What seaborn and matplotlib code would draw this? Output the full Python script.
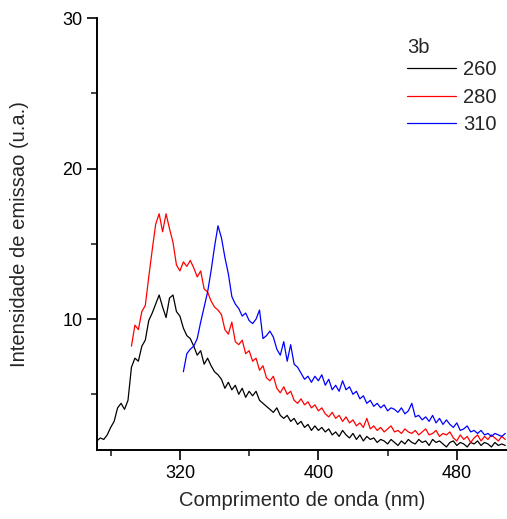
import numpy as np
import pandas as pd
import matplotlib
matplotlib.use("Agg")
import matplotlib.pyplot as plt
import seaborn as sns
from matplotlib.ticker import MultipleLocator

# wavelength grids (nm)
x_260 = list(range(272, 509, 2))
x_280 = list(range(292, 509, 2))
x_310 = list(range(322, 509, 2))

y_260 = [1.9, 2.1, 2.0, 2.3, 2.8, 3.2, 4.1, 4.4, 4.0, 4.6, 6.8, 7.4, 7.2, 8.2, 8.6, 9.9,
         10.4, 11.0, 11.6, 10.8, 10.1, 11.4, 11.6, 10.5, 10.2, 9.4, 8.9, 8.7, 8.2, 7.6,
         7.9, 7.0, 7.4, 6.9, 6.5, 6.3, 6.0, 5.4, 5.8, 5.3, 5.6, 5.0, 5.4, 4.8, 5.2, 4.9,
         5.2, 4.6, 4.4, 4.2, 4.0, 3.8, 4.1, 3.6, 3.4, 3.6, 3.2, 3.4, 3.0, 3.2, 2.8, 3.0,
         2.6, 2.9, 2.6, 2.8, 2.5, 2.7, 2.3, 2.5, 2.2, 2.6, 2.3, 2.1, 2.4, 2.0, 2.3, 1.9,
         2.2, 2.0, 2.1, 1.8, 2.0, 1.9, 1.7, 2.0, 1.8, 1.6, 1.9, 1.7, 2.0, 1.8, 1.7, 2.0,
         1.8, 1.9, 1.6, 2.0, 1.8, 1.9, 1.7, 1.5, 1.8, 1.9, 1.6, 1.8, 1.7, 1.5, 1.8, 1.7,
         1.9, 1.6, 1.8, 1.7, 1.5, 1.8, 1.6, 1.7, 1.6]

y_280 = [8.2, 9.6, 9.3, 10.5, 10.9, 12.8, 14.6, 16.3, 17.0, 15.8, 17.0, 16.0, 15.1, 13.6,
         13.2, 13.8, 13.5, 13.9, 13.4, 12.8, 13.2, 12.0, 11.8, 11.2, 10.8, 10.6, 10.3, 9.3,
         9.0, 9.8, 8.5, 8.3, 8.6, 7.7, 7.9, 7.2, 7.4, 6.6, 6.9, 6.1, 5.9, 6.2, 5.4, 5.1,
         5.5, 5.0, 5.2, 4.6, 4.4, 4.7, 4.3, 4.5, 4.1, 4.3, 3.9, 4.1, 3.7, 3.5, 3.8, 3.4,
         3.6, 3.2, 3.5, 3.1, 3.3, 2.9, 3.1, 2.8, 3.4, 2.7, 2.9, 2.6, 2.8, 2.5, 2.7, 2.9,
         2.5, 2.6, 2.4, 2.7, 2.5, 2.4, 2.6, 2.3, 2.5, 2.7, 2.3, 2.4, 2.6, 2.2, 2.4, 2.3,
         2.5, 2.1, 1.9, 2.3, 2.0, 2.2, 1.8, 2.1, 2.3, 1.9, 2.2, 2.0, 2.3, 2.1, 1.9, 2.2, 2.0]

y_310 = [6.5, 7.7, 8.0, 8.2, 8.7, 9.8, 10.8, 11.8, 13.2, 14.8, 16.2, 15.4, 14.1, 13.0,
         11.5, 11.0, 10.7, 10.2, 10.4, 9.9, 9.7, 10.0, 10.6, 8.7, 8.9, 9.2, 8.8, 8.0, 7.6,
         8.5, 7.2, 8.3, 7.0, 6.8, 6.4, 6.0, 6.2, 5.8, 6.2, 5.9, 6.3, 5.6, 6.0, 5.3, 5.6,
         5.2, 5.9, 5.3, 5.5, 5.0, 5.2, 4.7, 4.9, 4.4, 4.6, 4.2, 4.4, 4.1, 4.3, 3.9, 4.1,
         4.0, 3.8, 4.1, 3.7, 3.9, 4.4, 3.5, 3.6, 3.3, 3.5, 3.2, 3.6, 3.1, 3.4, 3.0, 3.3,
         3.0, 2.8, 3.1, 2.6, 2.7, 2.9, 2.5, 2.6, 2.4, 2.6, 2.3, 2.4, 2.2, 2.4, 2.3, 2.2, 2.4]

series_labels = ["260", "280", "310"]
series_colors = ["black", "red", "blue"]

df = pd.concat([
    pd.DataFrame({"x": x_260, "y": y_260, "exc": "260"}),
    pd.DataFrame({"x": x_280, "y": y_280, "exc": "280"}),
    pd.DataFrame({"x": x_310, "y": y_310, "exc": "310"}),
])

sns.set_theme(style="ticks")
plt.rcParams["font.family"] = ["Liberation Sans", "DejaVu Sans"]

fig = plt.figure(figsize=(5.07, 5.19), dpi=100)
ax = fig.add_axes([0.191, 0.133, 0.809, 0.832])

sns.lineplot(data=df, x="x", y="y", hue="exc", hue_order=series_labels,
             palette=series_colors, linewidth=0.9, ax=ax, estimator=None, sort=False)

ax.set_xlim(272, 509)
ax.set_ylim(1.3, 30)
ax.xaxis.set_minor_locator(MultipleLocator(40))
ax.yaxis.set_minor_locator(MultipleLocator(5))
ax.set_xticks([320, 400, 480])
ax.set_yticks([10, 20, 30])

for s in ["top", "right"]:
    ax.spines[s].set_visible(False)
for s in ["left", "bottom"]:
    ax.spines[s].set_linewidth(1.4)
    ax.spines[s].set_color("black")

ax.tick_params(which="major", direction="out", length=7, width=1.2, labelsize=13, colors="black")
ax.tick_params(which="minor", direction="out", length=4, width=1.2)

ax.set_xlabel("Comprimento de onda (nm)", fontsize=14.5, labelpad=7)
ax.set_ylabel("Intensidade de emissao (u.a.)", fontsize=14.5, labelpad=24)

leg = ax.legend(title="3b", frameon=False, loc="upper left", bbox_to_anchor=(0.713, 0.995),
                fontsize=14.5, title_fontsize=14.5, labelspacing=0.42,
                handlelength=2.4, handletextpad=0.35)
leg._legend_box.align = "left"
leg._legend_box.sep = 2
for line in leg.get_lines():
    line.set_linewidth(0.9)

fig.savefig("out.png", dpi=100)
